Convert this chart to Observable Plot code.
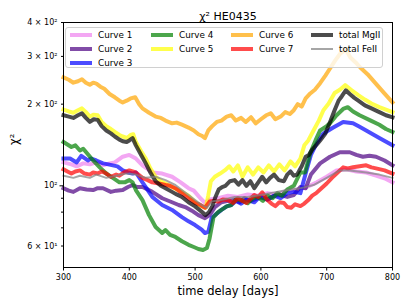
<!DOCTYPE html>
<html><head><meta charset="utf-8">
<script src="https://cdn.jsdelivr.net/npm/d3@7"></script>
<script src="https://cdn.jsdelivr.net/npm/@observablehq/plot@0.6"></script>
<style>
body{margin:0;background:#fff;font-family:"DejaVu Sans",sans-serif;}
#wrap{position:relative;width:407px;height:305px;overflow:hidden;}
#legend{position:absolute;left:65px;top:27px;width:318px;height:41px;box-sizing:border-box;background:rgba(255,255,255,0.8);border:1px solid #d0d0d0;border-radius:3px;}
.item{position:absolute;height:12px;font-size:8.8px;line-height:12px;color:#000;white-space:nowrap;}
.handle{position:absolute;left:0;width:22px;}
.lab{position:absolute;left:28px;top:0;}
</style>
</head><body>
<div id="wrap"></div>
<script>
// ---- data (time delay [days], chi^2) ----
const curve1 = [[300,122],[312,120],[320,118],[330,121],[340,120],[350,122],[360,119],[370,121],[378,122],[390,128],[400,130],[405,128],[410,126],[420,119],[435,112],[450,111],[465,108],[478,103],[490,98],[498,96],[508,90],[515,86.5],[522,89],[535,90],[550,92],[565,91],[580,93],[595,92],[610,94],[625,93],[640,96],[655,97],[670,99],[685,103],[700,108],[715,114],[730,115],[745,113],[760,112],[775,109],[790,106],[800,103]];
const curve2 = [[300,98],[308,96],[315,95],[325,98],[335,97],[345,96.5],[352,98],[360,98],[372,95],[380,96],[390,96.5],[398,99],[405,100.7],[412,99],[420,99],[428,97],[435,95],[450,90],[465,87],[475,85],[485,83.5],[495,81],[505,78],[515,76],[522,78],[530,83.5],[540,87],[550,88],[560,88.6],[568,87],[575,90],[585,88],[600,91],[610,89],[620,92],[630,92.5],[640,91],[650,92.5],[660,99],[668,98],[676,110],[690,121],[705,128],[720,133],[735,133],[745,130],[755,128],[765,129],[775,128],[788,124],[800,119]];
const curve3 = [[300,126],[310,126],[320,122],[327,129],[337,124],[342,126],[350,124],[360,121],[368,120],[375,119],[382,118],[390,114],[398,112],[405,111],[410,112],[420,103],[435,91],[450,85],[465,81.5],[480,76.7],[490,74],[500,71.7],[510,69],[515,67],[520,67.6],[525,76],[530,78],[540,81.5],[548,84],[555,85],[562,88],[570,86],[578,89],[590,87],[598,91],[610,89],[620,92],[630,90],[640,94],[650,95],[660,94],[668,111],[676,130],[685,144],[695,156],[710,164],[725,172],[740,170],[750,165],[760,160],[780,150],[800,141]];
const curve4 = [[300,145],[306,142],[312,139],[318,141],[325,135],[330,137],[338,130],[345,124],[355,117],[365,111],[375,107],[385,103],[393,103],[400,105],[405,103],[410,96.5],[420,88.6],[430,78],[440,70.5],[450,67],[455,68.7],[462,66],[470,64.8],[480,62.5],[490,60.6],[498,59.5],[505,58.5],[512,58],[518,59],[522,64],[528,76.7],[535,80],[540,81.5],[548,84],[555,85],[562,89],[570,88.6],[580,86.3],[588,90],[595,91],[603,88],[610,92],[618,90],[625,94],[632,92],[640,97],[650,100],[660,112],[667,112],[675,132],[683,147],[690,160],[700,166],[705,170],[715,182],[725,192],[732,195],[740,188],[750,182],[767,174],[780,168],[790,162],[800,158]];
const curve5 = [[300,191],[308,188],[315,186],[322,190],[328,193],[335,186],[340,180],[346,183],[352,182],[358,172],[365,166],[372,162],[378,158],[385,154],[390,152],[397,150],[402,154],[406,155],[410,145],[418,134],[425,126],[432,116],[440,108],[448,104],[455,102],[465,99],[472,97],[480,95],[490,92],[500,87],[510,84],[516,83],[520,92],[524,104],[530,108],[538,111],[545,114],[552,118],[558,113],[565,119],[572,108],[580,117],[588,110],[596,117],[604,112],[612,119],[620,113],[628,120],[636,114],[645,123],[652,118],[660,126],[666,141],[672,147],[680,160],[688,174],[695,190],[703,201],[712,220],[720,226],[728,235],[738,225],[748,216],[758,208],[768,201],[780,195],[790,191],[800,187]];
const curve6 = [[300,251],[308,246],[315,240],[322,243],[328,247],[334,240],[340,236],[345,240],[350,238],[356,232],[362,228],[370,218],[378,212],[385,206],[390,203],[396,206],[402,210],[409,212],[415,200],[420,193],[430,186],[440,180],[448,178],[455,174],[465,170],[472,171],[480,168],[490,164],[498,160],[505,155],[510,153],[515,150],[520,160],[526,166],[533,172],[540,174],[548,180],[555,182],[562,174],[570,178],[577,172],[585,179],[592,170],[600,176],[608,182],[615,185],[622,176],[630,180],[637,187],[644,184],[650,190],[656,200],[662,196],[668,210],[675,219],[682,226],[690,239],[698,255],[706,273],[713,290],[721,308],[729,318],[736,297],[744,285],[751,273],[762,258],[774,239],[787,220],[800,203]];
const curve7 = [[300,115],[306,113],[312,111],[318,113],[325,114],[332,111],[340,110],[345,112],[352,111],[358,113],[365,111],[372,108],[380,110],[385,109],[392,112],[400,114],[405,113],[410,112],[420,107],[428,105],[435,103],[445,102],[455,100.7],[462,100],[470,98],[480,94],[490,90],[500,86.5],[508,85],[515,83],[522,87.5],[528,88],[535,87.5],[542,89],[550,88.6],[558,86.5],[565,90],[572,88],[578,86.5],[585,90],[590,92.5],[596,91],[602,94.6],[610,88.6],[616,86],[622,84.2],[628,87],[635,86.5],[640,83.5],[646,83],[652,85.5],[660,84.2],[666,86],[672,88.6],[678,92],[684,94],[692,98],[700,102],[708,107],[715,111],[725,117],[732,116],[740,117],[750,118],[760,119],[768,117],[775,116],[788,114],[800,111]];
const totalMgII = [[300,182],[308,180],[315,178],[322,182],[328,185],[334,178],[340,172],[346,176],[352,175],[358,166],[365,160],[372,156],[378,152],[385,148],[390,146],[396,145],[400,147],[405,150],[410,141],[418,130],[425,121],[432,112],[440,104],[448,100],[455,98],[465,95],[472,93],[480,91],[490,87],[500,84],[508,81],[516,78],[521,80],[526,84],[531,91],[536,97],[541,99],[546,100],[553,104],[560,105],[566,101],[572,105],[578,100],[584,104],[590,98],[596,103],[602,108],[608,103],[614,107],[620,110],[627,105],[635,104],[640,110],[645,113],[650,109],[655,110],[662,118],[668,128],[673,130],[678,136],[685,142],[690,147],[698,156],[706,174],[712,190],[718,206],[723,214],[729,225],[735,218],[742,211],[748,206],[758,198],[768,193],[780,187],[790,182],[800,179]];
const totalFeII = [[300,109],[315,107],[325,109],[340,107],[350,110],[365,107],[380,109],[395,111],[410,110],[425,107],[440,108],[455,105],[470,100.7],[490,92.5],[510,85],[518,83],[525,87.5],[540,88.6],[560,91],[580,91],[600,92.5],[620,94.6],[640,96.5],[660,98],[680,100.7],[700,107],[720,114],[735,114],[760,112],[780,110],[800,107]];

const seriesNames = ["Curve 1","Curve 2","Curve 3","Curve 4","Curve 5","Curve 6","Curve 7","total MgII","total FeII"];
const seriesData = [curve1,curve2,curve3,curve4,curve5,curve6,curve7,totalMgII,totalFeII];
const seriesColors = ["#ee82ee","#4b0082","#0000ff","#008000","#ffff00","#ffa500","#ff0000","#000000","#808080"];
const seriesWidths = [4,4,4,4,4,4,4,4,2];

const xTicks = [300,400,500,600,700,800];
const yTickValues = [60,100,200,300,400];
const yTickLabels = ["6 × 10¹","10²","2 × 10²","3 × 10²","4 × 10²"];
const yMajorTicks = [100];
const yMinorTicks = [60,70,80,90,200,300,400];

const rows = [];
seriesData.forEach((arr,i)=>arr.forEach(([d,v])=>rows.push({series:seriesNames[i],day:d,chi2:v})));

const lineMarks = seriesNames.map((name,i)=>Plot.line(rows.filter(r=>r.series===name),{
  x:"day", y:"chi2", stroke:seriesColors[i], strokeWidth:seriesWidths[i], strokeOpacity:0.7,
  strokeLinejoin:"round", strokeLinecap:"square"
}));

const labelMap = new Map(yTickValues.map((v,i)=>[v,yTickLabels[i]]));

const chart = Plot.plot({
  width:407, height:305,
  marginLeft:63, marginRight:15, marginTop:22, marginBottom:38,
  style:{fontFamily:"DejaVu Sans", fontSize:"8px", background:"#fff", color:"#000"},
  x:{domain:[300,800]},
  y:{type:"log", domain:[50,400]},
  marks:[
    ...lineMarks,
    Plot.frame({stroke:"#000", strokeWidth:1}),
    Plot.axisX({ticks:xTicks, tickSize:3.5, tickPadding:3, label:null, fontSize:8, tickFormat:d=>String(d)}),
    Plot.axisY({ticks:yMajorTicks, tickSize:3.5, tickPadding:2.5, label:null, fontSize:8, tickFormat:d=>labelMap.get(d)}),
    Plot.axisY({ticks:yMinorTicks, tickSize:2, tickPadding:4, label:null, fontSize:8, tickFormat:d=>labelMap.get(d) ?? ""}),
    Plot.text(["time delay [days]"],{frameAnchor:"bottom", dy:27, fontSize:11.5, fill:"#000"}),
    Plot.text(["χ²"],{frameAnchor:"left", dx:-49, rotate:-90, fontSize:11.5, fill:"#000"}),
    Plot.text(["χ² HE0435"],{frameAnchor:"top", dy:-10, fontSize:11, fill:"#000"})
  ]
});
const wrap = document.getElementById("wrap");
wrap.appendChild(chart);

// legend (matplotlib style, 4 columns filled column-wise)
const legend = document.createElement("div");
legend.id = "legend";
const colCounts = [3,2,2,2];
const colX = [4,85,165,245];
let idx = 0;
colCounts.forEach((n,c)=>{
  for(let r=0;r<n;r++){
    const i = idx++;
    const item = document.createElement("div");
    item.className = "item";
    item.style.left = colX[c]+"px";
    item.style.top = (0.5 + r*14.3)+"px";
    const h = document.createElement("div");
    h.className = "handle";
    h.style.height = seriesWidths[i]+"px";
    h.style.top = (6 - seriesWidths[i]/2)+"px";
    h.style.background = seriesColors[i];
    h.style.opacity = 0.7;
    const l = document.createElement("span");
    l.className = "lab";
    l.textContent = seriesNames[i];
    item.appendChild(h); item.appendChild(l);
    legend.appendChild(item);
  }
});
wrap.appendChild(legend);
</script>
</body></html>
